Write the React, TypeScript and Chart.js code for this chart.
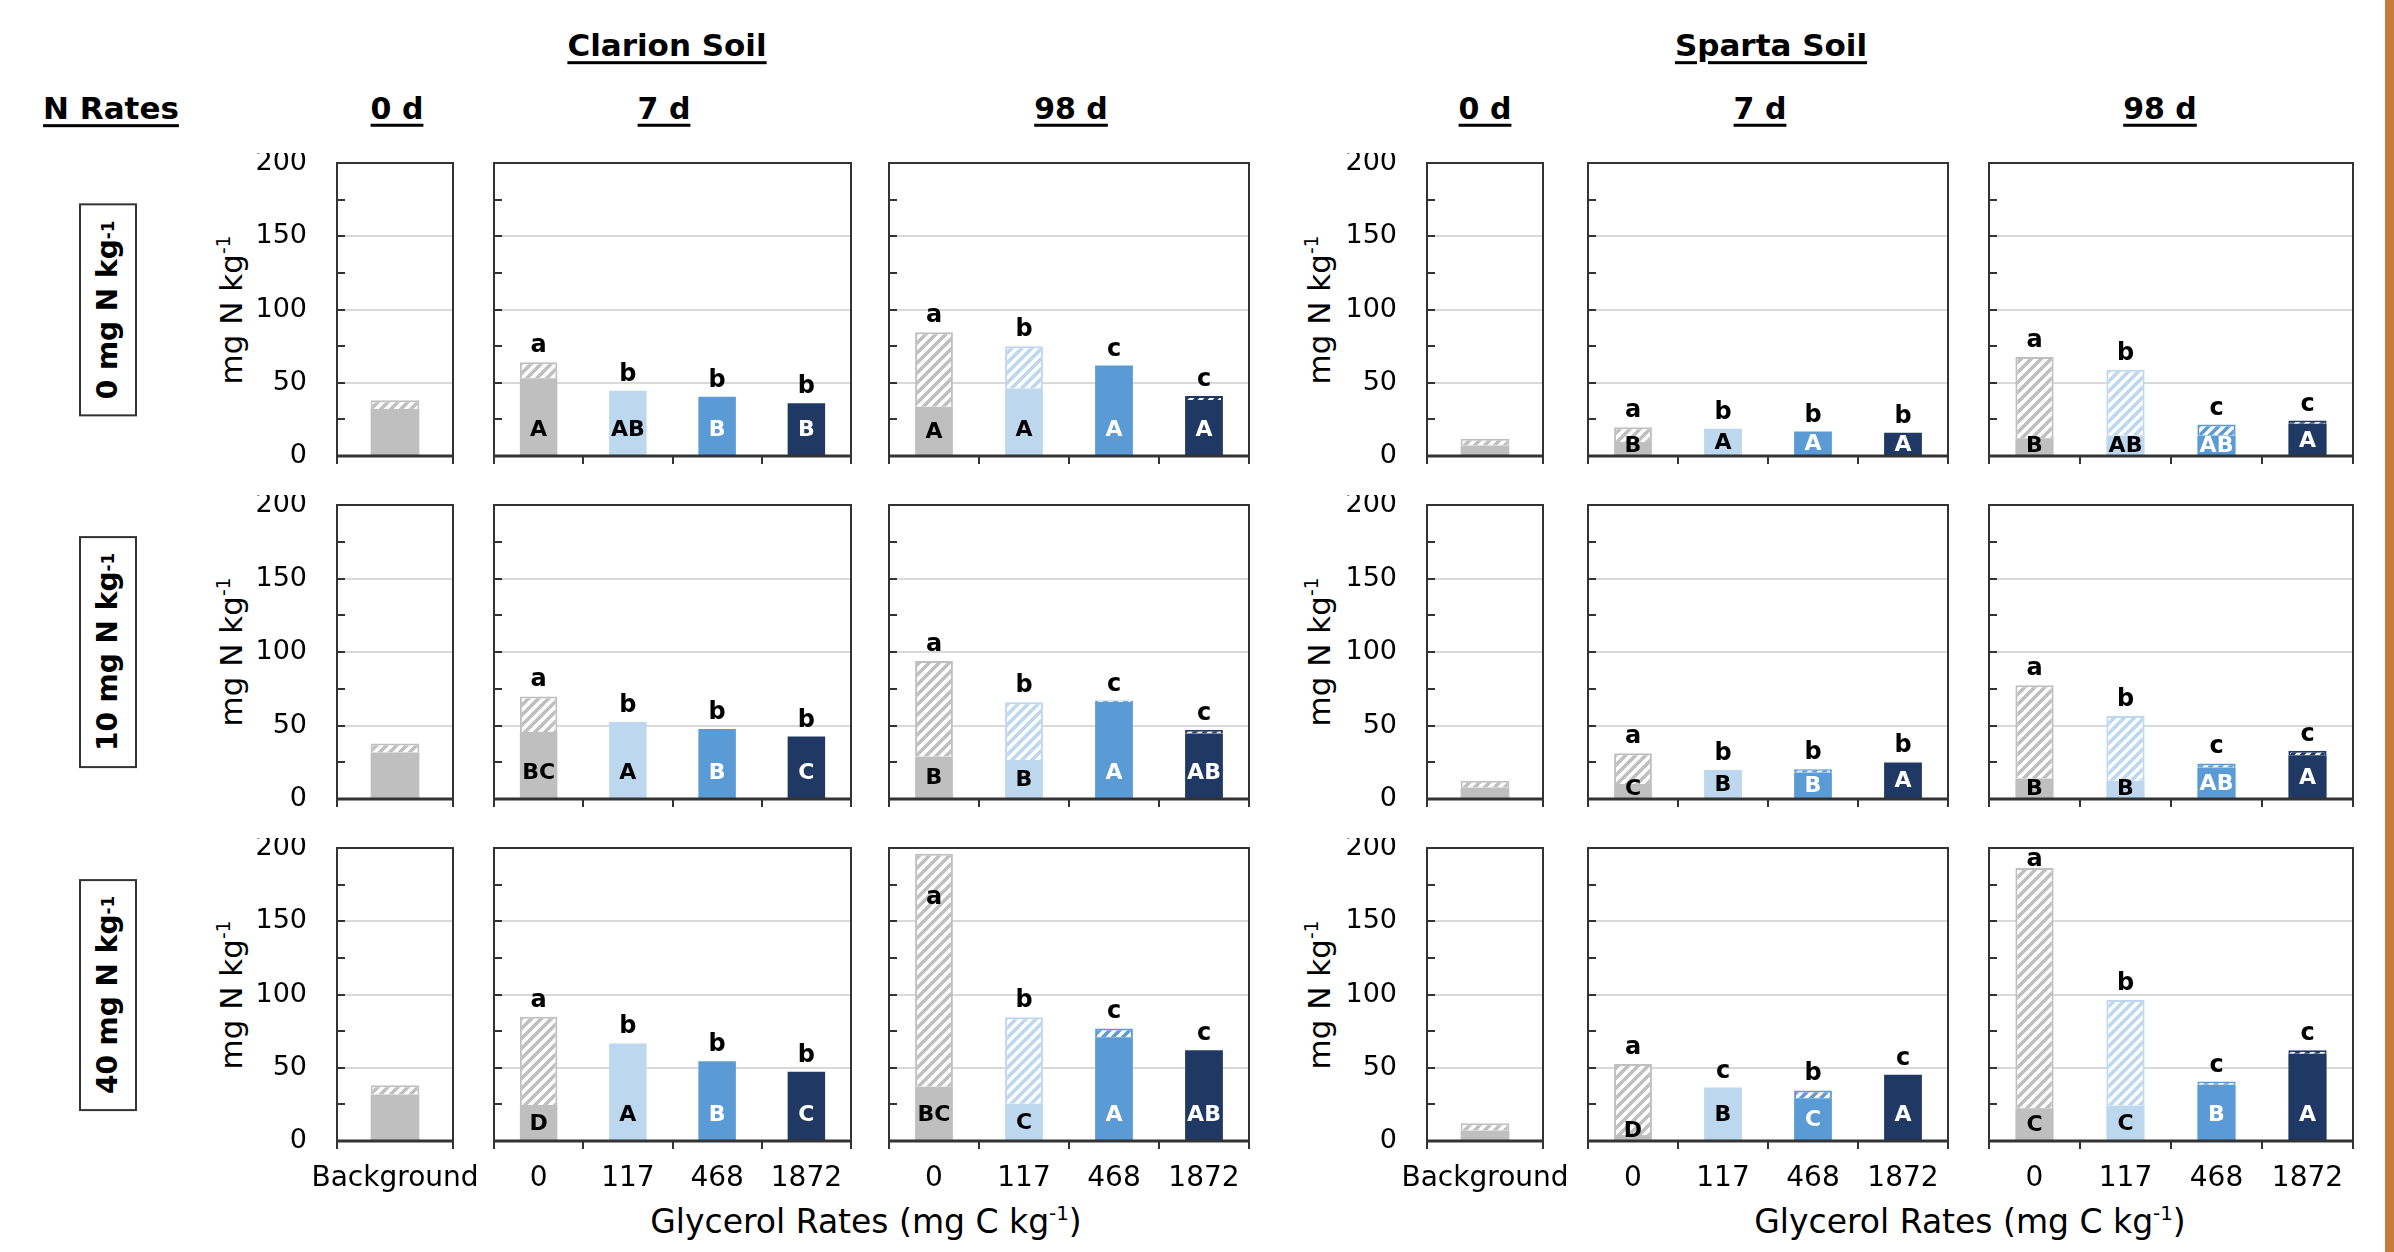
import React, { useEffect, useRef } from 'react';
import { Chart, registerables } from 'chart.js';

Chart.register(...registerables);

const FONT = "'DejaVu Sans', 'Liberation Sans', Arial, sans-serif";
Chart.defaults.font.family = FONT;
Chart.defaults.color = '#000';

// ---------------- data ----------------
const soilNames = ['Clarion Soil', 'Sparta Soil'];
const dayNames = ['0 d', '7 d', '98 d'];
const nRates = ['0', '10', '40'];
const backgroundLabels = ['Background'];
const glycerolRates = ['0', '117', '468', '1872'];

const clarionBgSolid = [32, 31.6, 31.8];
const clarionBgHatch = [6, 6.1, 6.2];
const clarion7dSolid = [[53, 44.6, 40.5, 36], [45.5, 52.3, 47.7, 42.5], [24.5, 66.6, 54.5, 47.3]];
const clarion7dHatch = [[11, 0, 0, 0], [24.3, 0, 0, 0], [60.3, 0, 0, 0]];
const clarion98dSolid = [[33.7, 46, 61.7, 38.3], [28.9, 26.6, 66, 44.5], [37, 25.5, 70.9, 62]];
const clarion98dHatch = [[50.8, 29, 0, 2.7], [65, 39.3, 1, 2.5], [159, 59, 5.9, 0]];

const spartaBgSolid = [7.2, 7.9, 7.1];
const spartaBgHatch = [4.6, 4.5, 5.0];
const sparta7dSolid = [[9.5, 18.6, 16.7, 15.8], [10.2, 19.7, 18, 24.9], [4.1, 36.5, 29.2, 45.2]];
const sparta7dHatch = [[10.2, 0, 0, 0], [21, 0, 2.3, 0], [48.4, 0, 5.3, 0]];
const sparta98dSolid = [[12.2, 14, 14, 22], [14, 12.4, 21.5, 29.8], [22.4, 24.2, 38.4, 59.6]];
const sparta98dHatch = [[55.4, 44.8, 7.5, 2.2], [63.3, 44.1, 2.7, 3], [163.9, 72.1, 2.2, 2.3]];

const clarion7dLower = [['a', 'b', 'b', 'b'], ['a', 'b', 'b', 'b'], ['a', 'b', 'b', 'b']];
const clarion7dUpper = [['A', 'AB', 'B', 'B'], ['BC', 'A', 'B', 'C'], ['D', 'A', 'B', 'C']];
const clarion98dLower = [['a', 'b', 'c', 'c'], ['a', 'b', 'c', 'c'], ['a', 'b', 'c', 'c']];
const clarion98dUpper = [['A', 'A', 'A', 'A'], ['B', 'B', 'A', 'AB'], ['BC', 'C', 'A', 'AB']];
const sparta7dLower = [['a', 'b', 'b', 'b'], ['a', 'b', 'b', 'b'], ['a', 'c', 'b', 'c']];
const sparta7dUpper = [['B', 'A', 'A', 'A'], ['C', 'B', 'B', 'A'], ['D', 'B', 'C', 'A']];
const sparta98dLower = [['a', 'b', 'c', 'c'], ['a', 'b', 'c', 'c'], ['a', 'b', 'c', 'c']];
const sparta98dUpper = [['B', 'AB', 'AB', 'A'], ['B', 'B', 'AB', 'A'], ['C', 'C', 'B', 'A']];

// ---------------- styles / layout ----------------
const seriesColors = ['#bfbfbf', '#bdd7ee', '#5b9bd5', '#1f3864'];
const darkOnColor = [false, false, true, true];
const AXIS = '#333333';

const colGeom = [
  [[337, 453], [494, 851], [889, 1249]],
  [[1427, 1543], [1588, 1948], [1989, 2353]],
];
const rowGeom = [[163, 456], [505, 799], [848, 1141]];

type Spec = {
  key: string;
  left: number; right: number; top: number; bottom: number;
  labels: string[];
  solid: number[]; hatch: number[];
  lower: string[]; upper: string[];
  colors: string[];
  showY: boolean; showX: boolean;
};

function buildSpecs(): Spec[] {
  const specs: Spec[] = [];
  const src = [
    { bgS: clarionBgSolid, bgH: clarionBgHatch, s7: clarion7dSolid, h7: clarion7dHatch, s98: clarion98dSolid, h98: clarion98dHatch, l7: clarion7dLower, u7: clarion7dUpper, l98: clarion98dLower, u98: clarion98dUpper },
    { bgS: spartaBgSolid, bgH: spartaBgHatch, s7: sparta7dSolid, h7: sparta7dHatch, s98: sparta98dSolid, h98: sparta98dHatch, l7: sparta7dLower, u7: sparta7dUpper, l98: sparta98dLower, u98: sparta98dUpper },
  ];
  for (let s = 0; s < 2; s++) {
    for (let r = 0; r < 3; r++) {
      for (let d = 0; d < 3; d++) {
        const [left, right] = colGeom[s][d];
        const [top, bottom] = rowGeom[r];
        const k = src[s];
        let labels: string[], solid: number[], hatch: number[], lower: string[], upper: string[], colors: string[];
        if (d === 0) {
          labels = backgroundLabels; solid = [k.bgS[r]]; hatch = [k.bgH[r]]; lower = ['']; upper = ['']; colors = [seriesColors[0]];
        } else if (d === 1) {
          labels = glycerolRates; solid = k.s7[r]; hatch = k.h7[r]; lower = k.l7[r]; upper = k.u7[r]; colors = seriesColors;
        } else {
          labels = glycerolRates; solid = k.s98[r]; hatch = k.h98[r]; lower = k.l98[r]; upper = k.u98[r]; colors = seriesColors;
        }
        specs.push({ key: `${s}-${r}-${d}`, left, right, top, bottom, labels, solid, hatch, lower, upper, colors, showY: d === 0, showX: r === 2 });
      }
    }
  }
  return specs;
}

const PAD_T = 10;
const PAD_R = 40;
function padL(sp: Spec) { return sp.showY ? 110 : 12; }
function padB(sp: Spec) { return sp.showX ? 74 : 20; }

function makeHatch(color: string, dark: boolean) {
  const c = document.createElement('canvas');
  c.width = 10; c.height = 10;
  const g = c.getContext('2d')!;
  g.fillStyle = dark ? color : '#ffffff';
  g.fillRect(0, 0, 10, 10);
  g.strokeStyle = dark ? '#ffffff' : color;
  g.lineWidth = 3.5;
  g.lineCap = 'square';
  for (const o of [-10, 0, 10]) {
    g.beginPath();
    g.moveTo(o, 10);
    g.lineTo(o + 10, 0);
    g.stroke();
  }
  return g.createPattern(c, 'repeat')!;
}

const framePlugin = {
  id: 'frame',
  afterDatasetsDraw(chart: any) {
    const { ctx, chartArea: a, scales } = chart;
    const y = scales.y;
    ctx.save();
    ctx.strokeStyle = AXIS;
    ctx.lineWidth = 2;
    ctx.strokeRect(a.left, a.top, a.right - a.left, a.bottom - a.top);
    for (let v = 25; v < 200; v += 25) {
      const py = Math.round(y.getPixelForValue(v));
      ctx.beginPath();
      ctx.moveTo(a.left, py);
      ctx.lineTo(a.left + 8, py);
      ctx.stroke();
    }
    ctx.lineWidth = 3;
    ctx.beginPath();
    ctx.moveTo(a.left - 1, a.bottom);
    ctx.lineTo(a.right + 1, a.bottom);
    ctx.stroke();
    ctx.restore();
  },
};

function lettersPlugin(sp: Spec) {
  return {
    id: 'letters',
    afterDatasetsDraw(chart: any) {
      const { ctx, scales, chartArea } = chart;
      const y = scales.y;
      const meta = chart.getDatasetMeta(0);
      ctx.save();
      ctx.textAlign = 'center';
      sp.labels.forEach((_, i) => {
        const bar = meta.data[i];
        if (!bar) return;
        const x = bar.x;
        const total = sp.solid[i] + (sp.hatch[i] || 0);
        if (sp.lower[i]) {
          ctx.font = `bold 24px ${FONT}`;
          ctx.fillStyle = '#000';
          ctx.textBaseline = 'alphabetic';
          const top = y.getPixelForValue(total);
          const py = total > 190 ? top + 50 : Math.max(top - 10, chartArea.top + 18);
          ctx.fillText(sp.lower[i], x, py);
        }
        if (sp.upper[i]) {
          ctx.font = `bold 22px ${FONT}`;
          ctx.fillStyle = darkOnColor[i] ? '#ffffff' : '#000000';
          ctx.textBaseline = 'middle';
          const v = Math.min(18, Math.max(7, sp.solid[i] / 2));
          ctx.fillText(sp.upper[i], x, y.getPixelForValue(v) + 1);
        }
      });
      ctx.restore();
    },
  };
}

function buildConfig(sp: Spec): any {
  const patterns = sp.colors.map((c, i) => makeHatch(c, darkOnColor[i]));
  const pl = padL(sp);
  const pb = padB(sp);
  return {
    type: 'bar',
    data: {
      labels: sp.labels,
      datasets: [
        {
          label: 'solid',
          data: sp.solid,
          backgroundColor: sp.colors,
          borderWidth: 0,
          stack: 'n',
          barPercentage: 0.42,
          categoryPercentage: 1,
        },
        {
          label: 'hatched',
          data: sp.hatch.map((h) => (h > 0 ? h : null)),
          backgroundColor: patterns,
          borderColor: sp.colors,
          borderWidth: 2,
          stack: 'n',
          barPercentage: 0.42,
          categoryPercentage: 1,
        },
      ],
    },
    options: {
      animation: false,
      responsive: false,
      maintainAspectRatio: false,
      devicePixelRatio: 1,
      layout: { padding: { top: PAD_T, right: PAD_R, left: 0, bottom: 0 } },
      plugins: { legend: { display: false }, tooltip: { enabled: false } },
      scales: {
        x: {
          stacked: true,
          border: { display: false },
          grid: {
            offset: true,
            drawOnChartArea: false,
            drawTicks: true,
            tickLength: 8,
            color: AXIS,
            lineWidth: 2,
          },
          ticks: {
            display: sp.showX,
            font: { size: 28 },
            color: '#000',
            padding: 13,
            maxRotation: 0,
            autoSkip: false,
          },
          afterFit: (s: any) => {
            s.height = pb;
            s.paddingLeft = 0;
            s.paddingRight = 0;
          },
        },
        y: {
          stacked: true,
          min: 0,
          max: 200,
          border: { display: false },
          grid: {
            drawTicks: false,
            lineWidth: 2,
            color: (c: any) => {
              const v = c.tick ? c.tick.value : -1;
              return v === 50 || v === 100 || v === 150 ? '#d9d9d9' : 'rgba(0,0,0,0)';
            },
          },
          ticks: {
            display: sp.showY,
            stepSize: 25,
            font: { size: 27 },
            color: '#000',
            padding: 30,
            callback: (v: any) => (Number(v) % 50 === 0 ? String(v) : ''),
          },
          afterFit: (s: any) => {
            s.width = pl;
            s.paddingTop = 0;
            s.paddingBottom = 0;
          },
        },
      },
    },
    plugins: [framePlugin, lettersPlugin(sp)],
  };
}

function Panel({ sp }: { sp: Spec }) {
  const ref = useRef<HTMLCanvasElement>(null);
  const pl = padL(sp);
  const pb = padB(sp);
  const w = sp.right - sp.left + pl + PAD_R;
  const h = sp.bottom - sp.top + PAD_T + pb;
  useEffect(() => {
    const chart = new Chart(ref.current as HTMLCanvasElement, buildConfig(sp));
    return () => chart.destroy();
  }, []);
  return (
    <canvas
      ref={ref}
      width={w}
      height={h}
      style={{ position: 'absolute', left: sp.left - pl, top: sp.top - PAD_T, width: w, height: h }}
    />
  );
}

const Sup = () => (
  <sup style={{ fontSize: '0.6em', verticalAlign: '0.65em', lineHeight: 0 }}>-1</sup>
);

function Txt({ x, y, size, bold, underline, rotate, children }: any) {
  return (
    <div
      style={{
        position: 'absolute',
        left: x,
        top: y,
        transform: `translate(-50%, -50%)${rotate ? ' rotate(-90deg)' : ''}`,
        whiteSpace: 'nowrap',
        fontFamily: FONT,
        fontSize: size,
        fontWeight: bold ? 'bold' : 'normal',
        textDecoration: underline ? 'underline' : 'none',
        textDecorationThickness: underline ? 3 : undefined,
        textUnderlineOffset: underline ? 5 : undefined,
        lineHeight: 1.15,
        color: '#000',
      }}
    >
      {children}
    </div>
  );
}

const soilHeaderX = [667, 1771];
const dayHeaderX = [[397, 664, 1071], [1485, 1760, 2160]];
const yTitleX = [232, 1320];
const xTitleX = [866, 1970];

export default function App() {
  const specs = buildSpecs();
  const rowCenters = rowGeom.map(([t, b]) => (t + b) / 2);
  return (
    <div style={{ position: 'absolute', left: 0, top: 0, width: 2394, height: 1252, background: '#fff', overflow: 'hidden' }}>
      {soilNames.map((n, i) => (
        <Txt key={n} x={soilHeaderX[i]} y={46} size={31} bold underline>{n}</Txt>
      ))}
      <Txt x={111} y={109} size={31} bold underline>N Rates</Txt>
      {dayNames.map((d, j) =>
        [0, 1].map((s) => (
          <Txt key={`${d}-${s}`} x={dayHeaderX[s][j]} y={109} size={30} bold underline>{d}</Txt>
        ))
      )}
      {nRates.map((n, r) => (
        <div
          key={n}
          style={{
            position: 'absolute',
            left: 108,
            top: rowCenters[r],
            transform: 'translate(-50%, -50%) rotate(-90deg)',
            border: `2px solid ${AXIS}`,
            boxSizing: 'border-box',
            height: 58,
            padding: '0 15px',
            display: 'flex',
            alignItems: 'center',
            whiteSpace: 'nowrap',
            fontFamily: FONT,
            fontWeight: 'bold',
            fontSize: 28,
            lineHeight: 1,
          }}
        >
          {n} mg N kg<Sup />
        </div>
      ))}
      {[0, 1].map((s) =>
        rowCenters.map((c, r) => (
          <Txt key={`yt-${s}-${r}`} x={yTitleX[s]} y={c} size={31} rotate>
            mg N kg<Sup />
          </Txt>
        ))
      )}
      {[0, 1].map((s) => (
        <Txt key={`xt-${s}`} x={xTitleX[s]} y={1222} size={33}>
          Glycerol Rates (mg C kg<Sup />)
        </Txt>
      ))}
      {specs.map((sp) => (
        <Panel key={sp.key} sp={sp} />
      ))}
      <div style={{ position: 'absolute', left: 2385, top: 0, width: 9, height: 1252, background: '#c97a3a' }} />
    </div>
  );
}
